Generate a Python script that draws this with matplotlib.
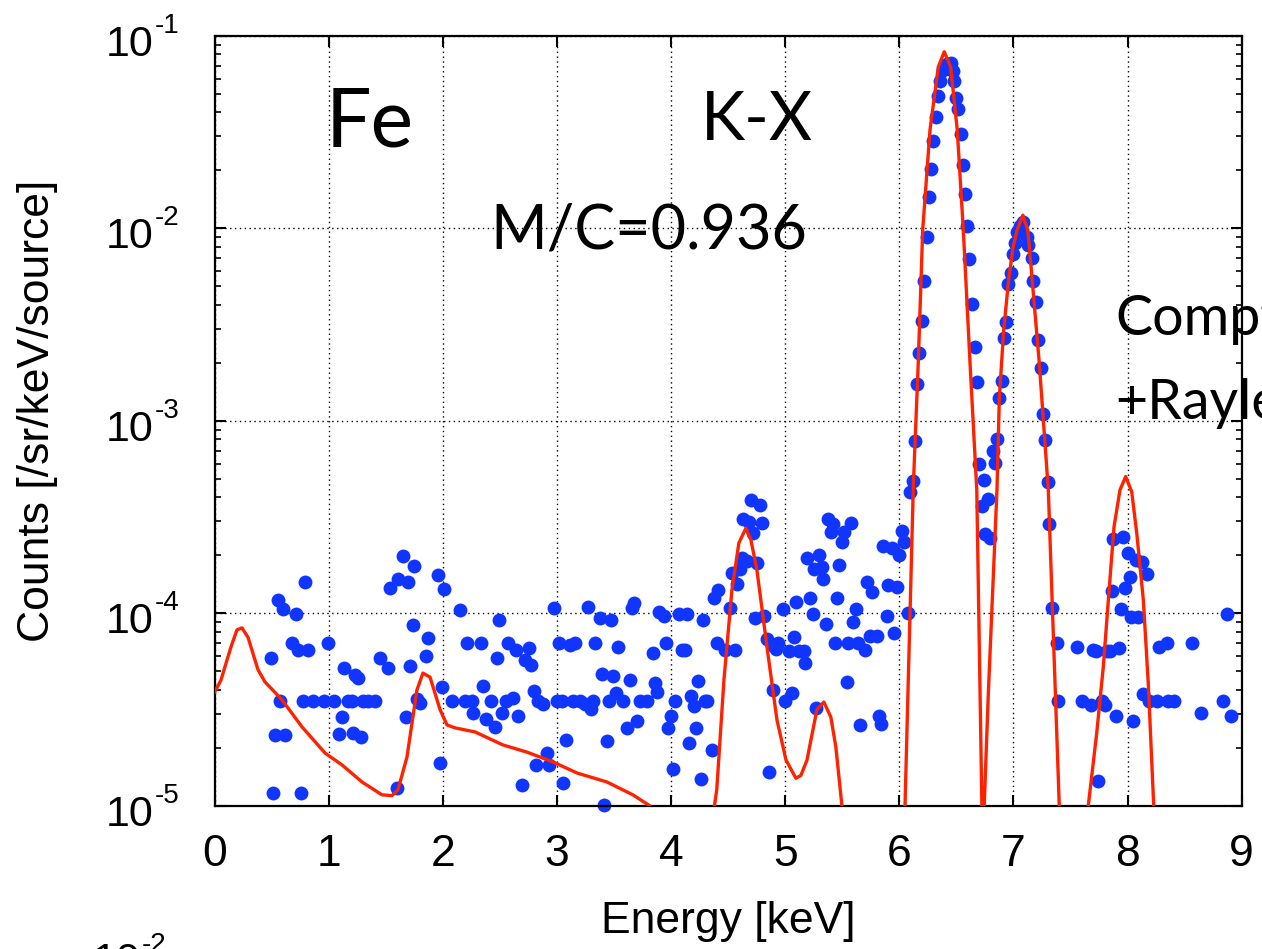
import matplotlib
matplotlib.use("Agg")
import matplotlib.pyplot as plt
from matplotlib.ticker import FixedLocator, LogLocator, NullFormatter
from matplotlib.transforms import blended_transform_factory, offset_copy

plt.rcParams['font.family'] = ['Liberation Sans', 'DejaVu Sans']

# ---- simulated spectrum (blue points) ----
dots_energy = [
    0.514, 0.756, 0.493, 0.557, 0.596, 0.791, 0.713, 0.680, 0.733, 0.820,
    0.572, 0.528, 0.616, 0.771, 0.864, 0.961, 0.996, 1.046, 1.113, 1.092,
    1.136, 1.171, 1.201, 1.209, 1.280, 1.230, 1.259, 1.297, 1.346, 1.405,
    1.449, 1.516, 1.536, 1.609, 1.653, 1.691, 1.749, 1.735, 1.714, 1.677,
    1.595, 1.770, 1.799, 1.872, 1.852, 1.954, 2.012, 1.989, 1.975, 2.082,
    2.153, 2.214, 2.194, 2.252, 2.266,
    2.494, 2.334, 2.477, 2.573, 2.638, 2.755, 2.720, 2.772, 2.354, 2.419,
    2.553, 2.617, 2.378, 2.457, 2.515, 2.656, 2.798, 2.836, 2.880, 2.915,
    2.816, 2.933, 2.696, 2.976, 3.018, 2.997, 3.041, 3.076, 3.055, 3.114,
    3.158, 3.138, 3.202, 3.245, 3.298, 3.318, 3.274, 3.333, 3.377, 3.473,
    3.397, 3.493, 3.537, 3.458, 3.517, 3.576, 3.436, 3.412, 3.655, 3.675,
    3.637, 3.616, 3.698, 3.727, 3.786, 3.839, 3.859, 3.879, 3.897, 3.938,
    3.955, 3.997, 3.975, 4.014, 4.034, 4.072, 4.142, 4.093, 4.122, 4.238,
    4.174, 4.201, 4.297, 4.317, 4.218, 4.157, 4.259, 4.356, 4.277, 4.376,
    4.414, 4.400,
    4.475, 4.563, 4.519, 4.575, 4.536, 4.604, 4.619, 4.663, 4.755, 4.633,
    4.685, 4.715, 4.799, 4.698, 4.780, 4.736, 4.817, 4.838, 4.882, 4.940,
    4.919, 4.896, 4.999, 5.057, 4.858, 4.978, 5.080, 5.036, 5.124, 5.167,
    5.173, 5.095, 5.217, 5.241, 5.194, 5.296, 5.252, 5.320, 5.334, 5.358,
    5.378, 5.421, 5.401, 5.515, 5.577, 5.495, 5.474, 5.457, 5.436, 5.270,
    5.539, 5.553, 5.641, 5.699, 5.618, 5.597, 5.714, 5.758, 5.743, 5.802,
    5.656, 5.822, 5.837, 5.855, 5.933, 6.021, 6.041, 6.000, 5.904, 5.982,
    5.890, 5.957, 6.080, 6.094, 6.123,
    6.137, 6.158, 6.175, 6.196, 6.216, 6.240, 6.260, 6.275, 6.298, 6.322,
    6.337, 6.357, 6.386, 6.416, 6.454, 6.468, 6.480, 6.497, 6.518, 6.539,
    6.562, 6.576, 6.596, 6.614, 6.638, 6.664, 6.684, 6.699, 6.743, 6.819,
    6.836, 6.859, 6.876, 6.897, 6.918, 6.932, 6.955, 6.979, 6.999, 7.014,
    7.034, 7.058, 7.087, 7.117, 7.131, 7.160, 7.174, 7.198, 7.218, 7.239,
    7.257, 7.277, 7.300,
    7.315, 7.336, 7.380, 7.394, 6.780, 6.722, 6.751, 6.795, 7.555, 7.599,
    7.680, 7.695, 7.724, 7.744, 7.774, 7.803, 7.818, 7.847, 7.899, 7.925,
    7.862, 7.876, 7.963, 8.002, 8.022, 7.978, 7.940, 8.028, 8.095, 8.074,
    8.124, 8.168, 8.051, 8.133, 8.191, 8.256, 8.279, 8.344, 8.358, 8.410,
    8.563, 8.641, 8.840, 8.875, 8.905,
]
dots_counts = [
    1.17e-5, 1.17e-5, 5.83e-5, 1.17e-4, 1.05e-4, 1.46e-4, 9.9e-5, 7.0e-5, 6.45e-5, 6.45e-5,
    3.5e-5, 2.33e-5, 2.33e-5, 3.5e-5, 3.5e-5, 3.5e-5, 7.0e-5, 3.5e-5, 2.9e-5, 2.36e-5,
    5.2e-5, 3.5e-5, 3.5e-5, 2.38e-5, 2.28e-5, 4.79e-5, 4.6e-5, 3.5e-5, 3.5e-5, 3.5e-5,
    5.87e-5, 5.18e-5, 1.35e-4, 1.51e-4, 1.99e-4, 1.46e-4, 1.76e-4, 8.7e-5, 5.3e-5, 2.9e-5,
    1.23e-5, 3.57e-5, 3.4e-5, 7.4e-5, 6.0e-5, 1.58e-4, 1.34e-4, 4.16e-5, 1.67e-5, 3.5e-5,
    1.04e-4, 7.0e-5, 3.5e-5, 3.5e-5, 3.03e-5,
    9.2e-5, 7.0e-5, 5.83e-5, 7.0e-5, 6.45e-5, 6.58e-5, 5.7e-5, 5.38e-5, 4.19e-5, 3.5e-5,
    3.5e-5, 3.61e-5, 2.82e-5, 2.56e-5, 3.05e-5, 2.93e-5, 3.96e-5, 3.5e-5, 3.38e-5, 1.89e-5,
    1.63e-5, 1.62e-5, 1.29e-5, 1.06e-4, 7.0e-5, 3.5e-5, 3.5e-5, 2.2e-5, 1.31e-5, 6.84e-5,
    7.0e-5, 3.5e-5, 3.5e-5, 3.39e-5, 3.2e-5, 3.5e-5, 1.08e-4, 7.0e-5, 9.5e-5, 9.2e-5,
    4.84e-5, 4.75e-5, 6.7e-5, 3.5e-5, 3.87e-5, 3.5e-5, 2.17e-5, 1.01e-5, 1.06e-4, 1.13e-4,
    4.5e-5, 2.53e-5, 2.76e-5, 3.5e-5, 3.5e-5, 6.24e-5, 4.33e-5, 3.89e-5, 1.02e-4, 9.7e-5,
    7.0e-5, 2.93e-5, 2.53e-5, 1.55e-5, 3.5e-5, 9.9e-5, 9.9e-5, 6.45e-5, 6.45e-5, 4.47e-5,
    3.73e-5, 3.3e-5, 3.5e-5, 3.5e-5, 2.55e-5, 2.13e-5, 1.38e-5, 1.96e-5, 9.2e-5, 1.2e-4,
    1.32e-4, 7.0e-5,
    6.45e-5, 6.45e-5, 1.07e-4, 1.42e-4, 1.62e-4, 1.69e-4, 1.93e-4, 1.87e-4, 1.83e-4, 3.08e-4,
    2.99e-4, 2.6e-4, 2.96e-4, 3.88e-4, 3.64e-4, 9.4e-5, 9.7e-5, 7.33e-5, 6.85e-5, 6.98e-5,
    6.5e-5, 4.0e-5, 3.5e-5, 3.84e-5, 1.5e-5, 1.05e-4, 7.55e-5, 6.4e-5, 6.4e-5, 6.4e-5,
    5.54e-5, 1.15e-4, 1.2e-4, 9.9e-5, 1.93e-4, 2.01e-4, 1.69e-4, 1.75e-4, 1.5e-4, 8.8e-5,
    3.08e-4, 2.9e-4, 2.63e-4, 2.65e-4, 2.96e-4, 2.34e-4, 1.78e-4, 1.2e-4, 7.0e-5, 3.23e-5,
    4.41e-5, 7.0e-5, 7.0e-5, 6.45e-5, 1.05e-4, 9.0e-5, 1.46e-4, 1.29e-4, 7.62e-5, 7.62e-5,
    2.63e-5, 2.94e-5, 2.65e-5, 2.25e-4, 2.18e-4, 2.68e-4, 2.36e-4, 2.01e-4, 1.4e-4, 1.37e-4,
    9.7e-5, 7.93e-5, 1.0e-4, 4.28e-4, 4.86e-4,
    7.88e-4, 1.55e-3, 2.24e-3, 3.31e-3, 5.32e-3, 8.98e-3, 1.46e-2, 2.03e-2, 2.84e-2, 3.78e-2,
    4.87e-2, 5.82e-2, 6.64e-2, 7.14e-2, 7.2e-2, 6.59e-2, 5.82e-2, 4.73e-2, 4.18e-2, 3.09e-2,
    2.12e-2, 1.51e-2, 1.03e-2, 6.9e-3, 4.04e-3, 2.41e-3, 1.6e-3, 6.0e-4, 4.92e-4, 7.0e-4,
    6.06e-4, 8.0e-4, 1.31e-3, 1.61e-3, 2.7e-3, 3.27e-3, 5.14e-3, 5.83e-3, 7.33e-3, 8.42e-3,
    9.6e-3, 1.03e-2, 1.08e-2, 9.04e-3, 8.19e-3, 7.03e-3, 5.35e-3, 4.16e-3, 2.63e-3, 1.88e-3,
    1.09e-3, 7.94e-4, 4.83e-4,
    2.9e-4, 1.07e-4, 6.98e-5, 3.5e-5, 3.93e-4, 3.6e-4, 2.58e-4, 2.45e-4, 6.65e-5, 3.5e-5,
    3.34e-5, 6.45e-5, 6.4e-5, 1.35e-5, 3.5e-5, 3.34e-5, 6.4e-5, 6.4e-5, 2.93e-5, 6.58e-5,
    1.31e-4, 2.42e-4, 2.5e-4, 2.05e-4, 1.54e-4, 1.36e-4, 1.05e-4, 9.6e-5, 9.6e-5, 1.89e-4,
    1.84e-4, 1.6e-4, 2.77e-5, 3.81e-5, 3.5e-5, 3.5e-5, 6.7e-5, 7.0e-5, 3.5e-5, 3.5e-5,
    7.0e-5, 3.05e-5, 3.5e-5, 9.9e-5, 2.93e-5,
]

# ---- model curve (red line) ----
model_energy = [
    0.000, 0.055, 0.143, 0.195, 0.239, 0.292, 0.379, 0.441, 0.590, 0.765,
    0.967, 1.116, 1.291, 1.466, 1.554, 1.606, 1.685, 1.772, 1.825, 1.887,
    1.975, 2.036, 2.106, 2.281, 2.527, 2.737, 2.965, 3.176, 3.437, 3.665,
    3.814, 3.950, 4.150, 4.360, 4.400, 4.463, 4.533, 4.594, 4.656, 4.700,
    4.752, 4.840, 4.928, 5.007, 5.094, 5.138, 5.191, 5.278, 5.339, 5.400,
    5.444, 5.497, 5.550, 5.800, 6.000, 6.050, 6.094, 6.123, 6.166, 6.205,
    6.269, 6.342, 6.394, 6.450, 6.508, 6.561, 6.620, 6.679, 6.730, 6.780,
    6.856, 6.877, 6.915, 6.958, 6.998, 7.033, 7.083, 7.126, 7.152, 7.227,
    7.306, 7.402, 7.450, 7.520, 7.600, 7.656, 7.730, 7.788, 7.832, 7.882,
    7.934, 7.984, 8.037, 8.081, 8.139, 8.182, 8.221, 8.270, 8.600, 9.000,
]
model_counts = [
    3.9e-5, 4.5e-5, 6.7e-5, 8.2e-5, 8.4e-5, 7.5e-5, 5.1e-5, 4.4e-5, 3.55e-5, 2.57e-5,
    1.88e-5, 1.63e-5, 1.33e-5, 1.14e-5, 1.13e-5, 1.21e-5, 1.79e-5, 3.99e-5, 4.89e-5, 4.66e-5,
    3.16e-5, 2.63e-5, 2.54e-5, 2.42e-5, 2.07e-5, 1.9e-5, 1.69e-5, 1.48e-5, 1.33e-5, 1.14e-5,
    1.0e-5, 7e-6, 6e-6, 8.3e-6, 1.21e-5, 4.5e-5, 1.32e-4, 2.32e-4, 2.77e-4, 2.4e-4,
    1.68e-4, 6.7e-5, 2.79e-5, 1.73e-5, 1.39e-5, 1.44e-5, 1.73e-5, 3.16e-5, 3.46e-5, 2.89e-5,
    2.02e-5, 1.0e-5, 5e-6, 1e-6, 1e-6, 1.0e-5, 1.0e-4, 4.6e-4, 1.99e-3, 9.8e-3,
    3.24e-2, 6.9e-2, 8.26e-2, 6.9e-2, 3.24e-2, 9.8e-3, 1.99e-3, 4.37e-4, 5.9e-6, 3.8e-5,
    4.37e-4, 1.33e-3, 2.96e-3, 5.39e-3, 8.02e-3, 9.8e-3, 1.17e-2, 9.8e-3, 6.6e-3, 1.99e-3,
    4.37e-4, 1.0e-5, 3e-6, 2e-6, 5e-6, 1.0e-5, 2.38e-5, 5.28e-5, 1.17e-4, 2.82e-4,
    4.37e-4, 5.13e-4, 4.28e-4, 2.61e-4, 1.17e-4, 4.33e-5, 1.31e-5, 3e-6, 1e-6, 1e-6,
]

x_ticks = [0, 1, 2, 3, 4, 5, 6, 7, 8, 9]
y_ticks = [1e-5, 1e-4, 1e-3, 1e-2, 1e-1]
y_exponents = ['-5', '-4', '-3', '-2', '-1']

W, H = 1262, 949
fig = plt.figure(figsize=(W / 100, H / 100), dpi=100)
ax = fig.add_axes([214.7 / W, 1 - 805.8 / H, 1026.9 / W, 770.0 / H])

ax.plot(dots_energy, dots_counts, 'o', ms=10, color='#1035ff', mec='none',
        clip_on=False, zorder=2)
ax.plot(model_energy, model_counts, '-', color='#ff2200', lw=2.4, zorder=3)

ax.set_yscale('log')
ax.set_xlim(0, 9)
ax.set_ylim(1e-5, 1e-1)
ax.xaxis.set_major_locator(FixedLocator(x_ticks))
ax.yaxis.set_major_locator(FixedLocator(y_ticks))
ax.yaxis.set_major_formatter(NullFormatter())
ax.yaxis.set_minor_locator(LogLocator(base=10, subs=range(2, 10), numticks=20))
ax.yaxis.set_minor_formatter(NullFormatter())

ax.grid(True, which='major', color='black', linestyle=(0, (1, 2.5)), linewidth=1.0)
ax.set_axisbelow(True)
for s in ax.spines.values():
    s.set_linewidth(1.6)

ax.tick_params(axis='both', which='both', direction='in', top=True, right=True)
ax.tick_params(axis='both', which='major', length=8, width=1.5)
ax.tick_params(axis='x', which='major', labelsize=32, pad=20)
ax.tick_params(axis='y', which='minor', length=4.5, width=1.2)

# y tick labels drawn as "10" with a raised exponent
ylab_tr = blended_transform_factory(ax.transAxes, ax.transData)
base_tr = offset_copy(ylab_tr, fig=fig, x=-61, y=-20, units='dots')
exp_tr = offset_copy(ylab_tr, fig=fig, x=-60, y=3, units='dots')
for v, e in zip(y_ticks, y_exponents):
    ax.text(0, v, '10', transform=base_tr, fontsize=31, ha='right', va='baseline',
            clip_on=False)
    ax.text(0, v, e, transform=exp_tr, fontsize=20, ha='left', va='baseline',
            clip_on=False)

ax.set_xlabel('Energy [keV]', fontsize=32)
ax.set_ylabel('Counts [/sr/keV/source]', fontsize=32)
ax.xaxis.set_label_coords(0.5, (805.8 - 901) / 770.0)
ax.yaxis.set_label_coords((58 - 214.7) / 1026.9, (805.8 - 411) / 770.0)

gill = ['Lato', 'DejaVu Sans']
fig.text(326 / W, 1 - 146.7 / H, 'Fe', fontsize=58, family=gill,
         ha='left', va='baseline')
fig.text(813 / W, 1 - 140 / H, 'K-X', fontsize=48, family=gill,
         ha='right', va='baseline')
fig.text(807 / W, 1 - 248.3 / H, 'M/C=0.936', fontsize=44, family=gill,
         ha='right', va='baseline')
fig.text(1115 / W, 1 - 335 / H, 'Compton', fontsize=40, family=gill,
         ha='left', va='baseline')
fig.text(1115 / W, 1 - 418.3 / H, '+Rayleigh', fontsize=40, family=gill,
         ha='left', va='baseline')

# top label of the next panel, partly visible at the bottom edge
fig.text(141 / W, 1 - 973 / H, '10', fontsize=31, ha='right', va='baseline')
fig.text(142 / W, 1 - 952 / H, '-2', fontsize=20, ha='left', va='baseline')

fig.savefig('out.png', dpi=100)
